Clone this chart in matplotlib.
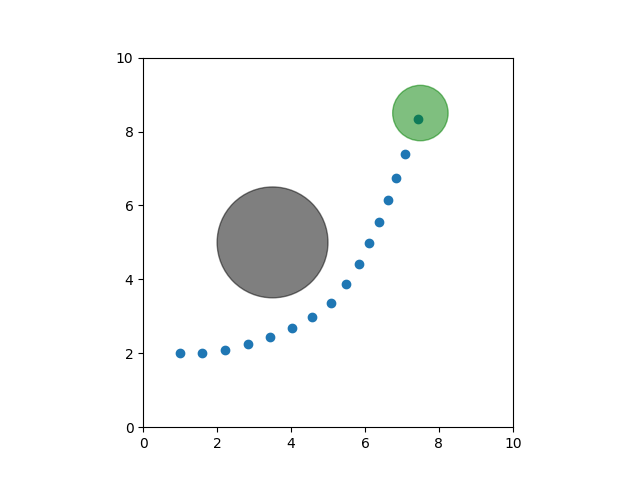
import matplotlib
matplotlib.use("Agg")
import matplotlib.pyplot as plt
from matplotlib.patches import Circle

path_x = [1.0, 1.60, 2.22, 2.84, 3.44, 4.02, 4.58, 5.09, 5.50, 5.85, 6.12, 6.39, 6.63, 6.85, 7.09, 7.44]
path_y = [2.0, 2.0, 2.08, 2.25, 2.43, 2.68, 2.97, 3.37, 3.87, 4.42, 4.98, 5.54, 6.15, 6.73, 7.39, 8.33]

obstacle_center = (3.5, 5.0)
obstacle_radius = 1.5
goal_center = (7.5, 8.5)
goal_radius = 0.75

fig, ax = plt.subplots(figsize=(6.4, 4.8), dpi=100)
ax.scatter(path_x, path_y)
ax.add_patch(Circle(obstacle_center, obstacle_radius, color='k', alpha=0.5))
ax.add_patch(Circle(goal_center, goal_radius, color='g', alpha=0.5))
ax.set_xlim(0, 10)
ax.set_ylim(0, 10)
ax.set_aspect('equal')
fig.savefig("out.png")
